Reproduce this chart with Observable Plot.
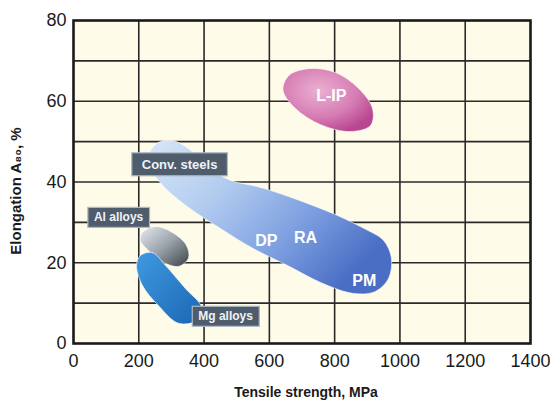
<!DOCTYPE html>
<html><head><meta charset="utf-8">
<script src="https://cdn.jsdelivr.net/npm/d3@7"></script>
<script src="https://cdn.jsdelivr.net/npm/@observablehq/plot@0.6"></script>
<style>body{margin:0;background:#fff;} svg{display:block}</style>
</head><body><div id="chart"></div>
<script>
// Axis ticks and grid
const xTicks = [0, 200, 400, 600, 800, 1000, 1200, 1400];
const yTicks = [0, 20, 40, 60, 80];
const xGrid = [200, 400, 600, 800, 1000, 1200];
const yGrid = [10, 20, 30, 40, 50, 60, 70];
const xLabel = "Tensile strength, MPa";
const yLabel = "Elongation A\u2088\u2080, %";

// Property regions (outline points: tensile strength MPa, elongation %)
const steelX = [236, 260, 303, 352, 420, 481, 551, 604, 717, 809, 885, 950, 974, 965, 925, 858, 757, 656, 551, 450, 349, 282, 242, 227];
const steelY = [47.8, 49.8, 50.3, 48.3, 43.3, 40.4, 39.1, 37.9, 34.7, 31.7, 28.7, 25.5, 21.1, 16.1, 12.9, 12.4, 15.1, 19.3, 23.5, 28.5, 33.9, 38.4, 42.4, 45.3];
const lipX = [660, 726, 803, 873, 916, 910, 849, 757, 680, 642];
const lipY = [66.4, 68.1, 67.1, 63.2, 58.2, 54.0, 52.5, 54.2, 58.2, 62.7];
const alX = [211, 251, 303, 346, 352, 322, 276, 230, 205];
const alY = [27.5, 29.0, 27.5, 24.3, 21.1, 19.1, 20.1, 23.0, 25.5];
const mgX = [205, 242, 282, 343, 392, 380, 322, 260, 211, 193];
const mgY = [21.8, 22.5, 19.3, 13.6, 9.0, 5.8, 5.0, 9.4, 14.4, 19.3];

// Labels
const innerLabels = ["DP", "RA", "PM", "L-IP"];
const innerX = [591, 711, 891, 790];
const innerY = [25.5, 26.1, 15.4, 61.4];
const steelLabel = ["Conv. steels"];
const steelLabelX = [325];
const steelLabelY = [44.3];
const alloyLabels = ["Al alloys", "Mg alloys"];
const alloyLabelX = [138, 466];
const alloyLabelY = [31.2, 6.7];

const pts = (xs, ys) => xs.map((x, i) => ({x, y: ys[i]}));
const lab = (ts, xs, ys) => ts.map((t, i) => ({t, x: xs[i], y: ys[i]}));

const blob = (data, fill) => Plot.line(data, {x: "x", y: "y", curve: "catmull-rom-closed", fill, stroke: "white", strokeWidth: 1, strokeOpacity: 0.6});

const chart = Plot.plot({
  width: 550, height: 410,
  marginLeft: 73, marginRight: 20, marginTop: 20, marginBottom: 67,
  style: {fontFamily: "'Liberation Sans', Arial, sans-serif", background: "#fff", color: "#1a1a1a"},
  x: {domain: [0, 1400], ticks: xTicks, tickSize: 0, tickPadding: 11, label: null, tickFormat: d => String(d)},
  y: {domain: [0, 80], ticks: yTicks, tickSize: 0, tickPadding: 7, label: null, tickFormat: d => String(d)},
  marks: [
    Plot.frame({fill: "#fffbe9", stroke: null}),
    Plot.gridX(xGrid, {stroke: "#2a2a2a", strokeOpacity: 1, strokeWidth: 1.6}),
    Plot.gridY(yGrid, {stroke: "#2a2a2a", strokeOpacity: 1, strokeWidth: 1.6}),
    blob(pts(steelX, steelY), "url(#gSteel)"),
    blob(pts(lipX, lipY), "url(#gLip)"),
    blob(pts(alX, alY), "url(#gAl)"),
    blob(pts(mgX, mgY), "url(#gMg)"),
    Plot.frame({stroke: "#1a1a1a", strokeWidth: 2.6}),
    Plot.axisX({ticks: xTicks, tickSize: 0, tickPadding: 11, fontSize: 18, label: null, fill: "#1a1a1a", tickFormat: d => String(d)}),
    Plot.axisY({ticks: yTicks, tickSize: 0, tickPadding: 7, fontSize: 18, label: null, fill: "#1a1a1a", tickFormat: d => String(d)}),
    Plot.text(lab(innerLabels, innerX, innerY), {x: "x", y: "y", text: "t", fill: "white", fontSize: 16, fontWeight: "bold", letterSpacing: -0.5}),
    Plot.text(lab(steelLabel, steelLabelX, steelLabelY), {x: "x", y: "y", text: "t", fill: "#eef2f7", fontSize: 13, fontWeight: "bold", className: "boxwide"}),
    Plot.text(lab(alloyLabels, alloyLabelX, alloyLabelY), {x: "x", y: "y", text: "t", fill: "#eef2f7", fontSize: 12, fontWeight: "bold", className: "boxlab"}),
    Plot.text([xLabel], {frameAnchor: "bottom", textAnchor: "middle", dy: 53, dx: 4, fontSize: 14, fontWeight: "bold", fill: "#1a1a1a", letterSpacing: -0.6}),
    Plot.text([yLabel], {frameAnchor: "left", textAnchor: "middle", dx: -57, dy: 9, rotate: -90, fontSize: 15, fontWeight: "bold", fill: "#1a1a1a", letterSpacing: -0.5})
  ]
});

d3.select(chart).insert("defs", ":first-child").html(`
  <linearGradient id="gSteel" x1="0" y1="0" x2="1" y2="0.6">
    <stop offset="0" stop-color="#d8e6f8"/>
    <stop offset="0.35" stop-color="#b3cdf0"/>
    <stop offset="0.7" stop-color="#7d9fe0"/>
    <stop offset="1" stop-color="#4a6ec4"/>
  </linearGradient>
  <radialGradient id="gLip" cx="0.4" cy="0.35" r="0.7">
    <stop offset="0" stop-color="#eab0d2"/>
    <stop offset="0.6" stop-color="#d67cb3"/>
    <stop offset="1" stop-color="#b84690"/>
  </radialGradient>
  <linearGradient id="gAl" x1="0" y1="0" x2="1" y2="1">
    <stop offset="0" stop-color="#e6eaee"/>
    <stop offset="0.5" stop-color="#9aa2aa"/>
    <stop offset="1" stop-color="#3c4246"/>
  </linearGradient>
  <linearGradient id="gMg" x1="0" y1="0" x2="1" y2="1">
    <stop offset="0" stop-color="#3f9ae0"/>
    <stop offset="1" stop-color="#1c66b4"/>
  </linearGradient>
`);

document.getElementById("chart").append(chart);

function boxes(sel, px, py) {
  d3.select(chart).selectAll(sel + " text").each(function () {
    const b = this.getBBox();
    d3.select(this.parentNode).insert("rect", () => this)
      .attr("transform", this.getAttribute("transform"))
      .attr("x", b.x - px).attr("y", b.y - py + 1)
      .attr("width", b.width + 2 * px).attr("height", b.height + 2 * py - 2)
      .attr("fill", "#4f5c6c").attr("stroke", "#aeb8c4").attr("stroke-width", 1.2);
  });
}
boxes("g.boxwide", 10, 5);
boxes("g.boxlab", 6, 4);
</script>
</body></html>
